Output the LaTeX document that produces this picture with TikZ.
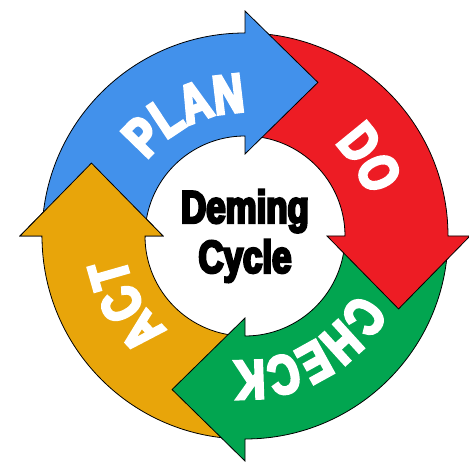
\documentclass[tikz,border=0pt]{standalone}
\usepackage{fontspec}
\usetikzlibrary{decorations.text}
\newfontfamily\heavyfont{Liberation Sans}[UprightFont=* Bold, FakeStretch=0.76, FakeBold=5.5]
\definecolor{planblue}{RGB}{66,145,235}
\definecolor{dored}{RGB}{237,28,36}
\definecolor{checkgreen}{RGB}{2,165,80}
\definecolor{actorange}{RGB}{232,165,10}
\tikzset{
  cyclearrow/.style={fill=#1, draw=black, line width=.8bp, line join=miter},
  arrowword/.style={decorate, decoration={text along path, text align=center, text color=white,
    text={|\heavyfont\fontsize{55}{55}\selectfont|#1}}}
}
\begin{document}
\begin{tikzpicture}[x=1bp, y=1bp]
\useasboundingbox (-245,-232) rectangle (224,236);
\foreach \e/\col in {180/actorange, -90/checkgreen, 0/dored, 90/planblue}
  \draw[cyclearrow=\col] ({\e+90}:203) arc[start angle=\e+90, end angle=\e, radius=203]
    -- (\e:225) -- ({\e-25.4}:170) -- (\e:82) -- (\e:100)
    arc[start angle=\e, end angle=\e+90, radius=100] -- cycle;
\begin{scope}
  \clip (-240,-2) rectangle (0,240);
  \draw[cyclearrow=actorange] (270:203) arc[start angle=270, end angle=180, radius=203]
    -- (180:225) -- (154.6:170) -- (180:82) -- (180:100)
    arc[start angle=180, end angle=270, radius=100] -- cycle;
\end{scope}

\path[arrowword=PLAN] (166:124) arc[start angle=166, end angle=66, radius=124];
\path[arrowword=DO] (82:129) arc[start angle=82, end angle=-18, radius=129];
\path[arrowword=CHECK] (-11:125) arc[start angle=-11, end angle=-111, radius=125];
\path[arrowword=ACT] (260:122) arc[start angle=260, end angle=160, radius=122];

\node[font=\heavyfont\fontsize{46}{50}\selectfont, align=center] (deming) at (0,0) {Deming\\Cycle};
\end{tikzpicture}
\end{document}
